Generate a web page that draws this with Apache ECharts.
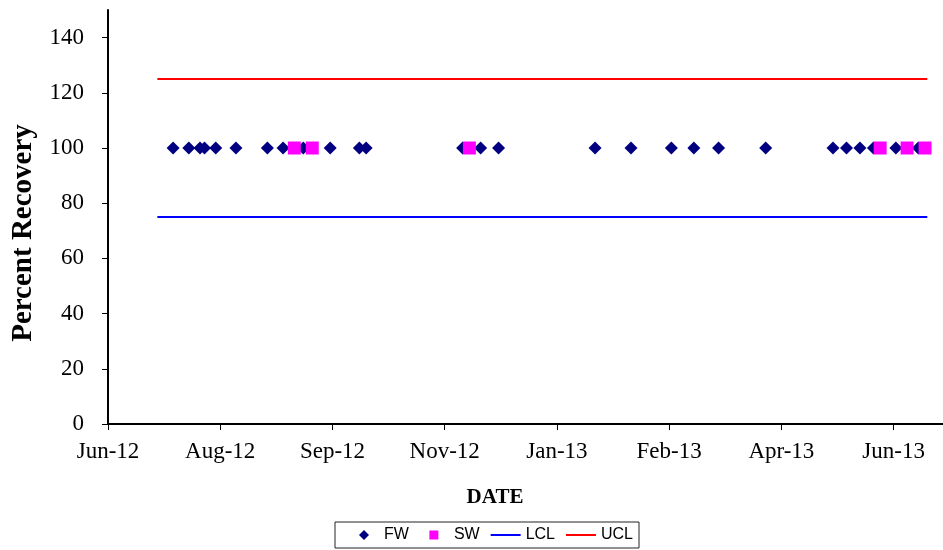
<!DOCTYPE html>
<html>
<head>
<meta charset="utf-8">
<script src="https://cdn.jsdelivr.net/npm/echarts@6/dist/echarts.min.js"></script>
<style>
  html, body { margin: 0; padding: 0; background: #fff; }
  #chart { width: 943px; height: 550px; }
</style>
</head>
<body>
<div id="chart"></div>
<script>
'use strict';

// sample dates, all at 100 % recovery
var fwDates = ['2012-07-19', '2012-07-26', '2012-07-31', '2012-08-02', '2012-08-07', '2012-08-16',
  '2012-08-30', '2012-09-06', '2012-09-15', '2012-09-27', '2012-10-10', '2012-10-13',
  '2012-11-25', '2012-12-03', '2012-12-11', '2013-01-23', '2013-02-08', '2013-02-26',
  '2013-03-08', '2013-03-19', '2013-04-09', '2013-05-09', '2013-05-15', '2013-05-21',
  '2013-05-27', '2013-06-06', '2013-06-16']
var fwValues = fwDates.map(function () { return 100 })
var swDates = ['2012-09-11', '2012-09-19', '2012-11-28', '2013-05-30', '2013-06-11', '2013-06-19']
var swValues = [100, 100, 100, 100, 100, 100]

// control limits
var limitDates = ['2012-07-12', '2013-06-20']
var lclValues = [75, 75]
var uclValues = [125, 125]

// x axis counts days from this date, ticks every 50 days
var baseDate = '2012-06-20'
var xTickDays = [0, 50, 100, 150, 200, 250, 300, 350]
var xTickLabels = ['Jun-12', 'Aug-12', 'Sep-12', 'Nov-12', 'Jan-13', 'Feb-13', 'Apr-13', 'Jun-13']
var yTicks = [0, 20, 40, 60, 80, 100, 120, 140]

var base = Date.parse(baseDate)
function toDay(s) { return (Date.parse(s) - base) / 86400000 }
function pairs(dates, vals) {
  return dates.map(function (d, i) { return [toDay(d), vals[i]] })
}

// legend markers: small shape centred in a 30x10 box (empty subpaths widen the box)
var diamondIcon = 'path://M0,5L0,5M30,5L30,5M15,0L20,5L15,10L10,5Z'
var squareIcon = 'path://M0,5L0,5M30,5L30,5M10.5,0.5H19.5V9.5H10.5Z'

var serif = '"Liberation Serif", serif'
var chart = echarts.init(document.getElementById('chart'))
chart.setOption({
  animation: false,
  backgroundColor: '#fff',
  grid: { left: 108, right: 0, top: 10, bottom: 126, containLabel: false },
  title: [
    { text: 'DATE', left: 490, top: 482, textAlign: 'center',
      textStyle: { fontFamily: serif, fontSize: 21, fontWeight: 'bold', color: '#000' } }
  ],
  graphic: [
    { type: 'text', x: 24, y: 233, rotation: Math.PI / 2,
      style: { text: 'Percent Recovery', fontFamily: serif, fontSize: 29, fontWeight: 'bold',
        fill: '#000', align: 'center', verticalAlign: 'middle' } }
  ],
  legend: {
    bottom: 2, left: 335,
    itemGap: 10, itemWidth: 30, itemHeight: 10,
    borderColor: '#222', borderWidth: 1, borderRadius: 0,
    padding: [5, 6, 5, 14],
    symbolKeepAspect: true,
    textStyle: { fontFamily: '"Liberation Sans", Arial', fontSize: 16, color: '#000' },
    data: [
      { name: 'FW', icon: diamondIcon, itemStyle: { color: '#000080' } },
      { name: 'SW', icon: squareIcon, itemStyle: { color: '#FF00FF' } },
      { name: 'LCL', itemStyle: { opacity: 0 } },
      { name: 'UCL', itemStyle: { opacity: 0 } }
    ]
  },
  xAxis: {
    type: 'value', min: 0, max: 372,
    splitLine: { show: false },
    axisLine: { lineStyle: { color: '#000', width: 2 } },
    axisTick: { customValues: xTickDays, length: 6, lineStyle: { color: '#000' } },
    axisLabel: {
      customValues: xTickDays, margin: 16,
      fontFamily: serif, fontSize: 23, color: '#000',
      formatter: function (v) { return xTickLabels[xTickDays.indexOf(v)] || '' }
    }
  },
  yAxis: {
    type: 'value', min: 0, max: 150,
    splitLine: { show: false },
    axisLine: { show: true, lineStyle: { color: '#000', width: 2 } },
    axisTick: { show: true, customValues: yTicks, length: 6, lineStyle: { color: '#000' } },
    axisLabel: { customValues: yTicks, margin: 24, fontFamily: serif, fontSize: 23, color: '#000' }
  },
  series: [
    { name: 'FW', type: 'scatter', symbol: 'diamond', symbolSize: 13,
      itemStyle: { color: '#000080', opacity: 1 }, data: pairs(fwDates, fwValues), z: 3 },
    { name: 'SW', type: 'scatter', symbol: 'rect', symbolSize: 13,
      itemStyle: { color: '#FF00FF', opacity: 1 }, data: pairs(swDates, swValues), z: 4 },
    { name: 'LCL', type: 'line', symbol: 'none', color: '#0000FF',
      lineStyle: { color: '#0000FF', width: 2 }, data: pairs(limitDates, lclValues), z: 2 },
    { name: 'UCL', type: 'line', symbol: 'none', color: '#FF0000',
      lineStyle: { color: '#FF0000', width: 2 }, data: pairs(limitDates, uclValues), z: 2 }
  ]
})
</script>
</body>
</html>
